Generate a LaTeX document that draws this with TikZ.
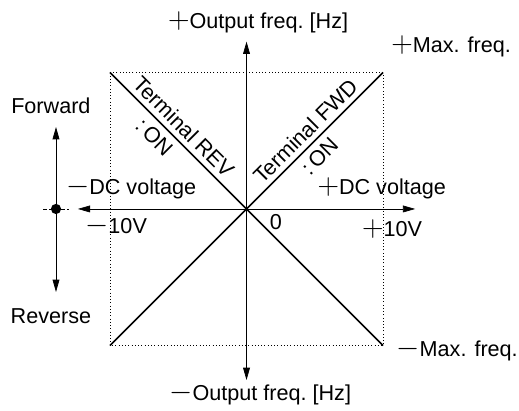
\documentclass[tikz,border=0pt]{standalone}
\usepackage{fontspec}
\setmainfont{Liberation Sans}
\usetikzlibrary{arrows.meta,positioning}
\newcommand{\psgn}{{\fontsize{23}{23}\selectfont$+$}}
\newcommand{\msgn}{{\fontsize{23}{23}\selectfont$-$}}
\tikzset{
  ar/.style={-{Triangle[length=3.6mm,width=2mm]},line width=0.6pt},
  curve/.style={line width=1.4pt},
  frame/.style={dotted,line width=0.7pt},
  lbl/.style={font=\fontsize{18}{21}\selectfont,inner sep=1pt}
}

\begin{document}
\begin{tikzpicture}
\useasboundingbox (-7.22,-5.89) rectangle (7.98,6.12);
\coordinate (o) at (0,0);
\coordinate (tl) at (-4,4);
\coordinate (tr) at (4,4);
\coordinate (bl) at (-4,-4);
\coordinate (br) at (4,-4);
\coordinate (xl) at (-4.94,0);
\coordinate (xr) at (4.94,0);
\coordinate (yt) at (0,4.9);
\coordinate (yb) at (0,-5.01);
% range box
\draw[frame] (tl) rectangle (br);
% axes
\draw[ar] (o) -- (xl);
\draw[ar] (o) -- (xr);
\draw[ar] (o) -- (yt);
\draw[ar] (o) -- (yb);
% characteristics
\draw[curve] (tl) -- (o)
  node[lbl,pos=0.47,sloped,above=3pt] (rev) {Terminal REV}
  node[lbl,pos=0.4,sloped,below=4pt] (revon) {:\,ON} -- (br);
\draw[curve] (bl) -- (o)
  -- (tr)
  node[lbl,pos=0.5,sloped,above=3pt] (fwd) {Terminal FWD}
  node[lbl,pos=0.46,sloped,below=4pt] (fwdon) {:\,ON};
% axis labels
\node[lbl] (outp) at (0.34,5.48) {\psgn Output freq.\ [Hz]};
\node[lbl] (outm) at (0.40,-5.42) {\msgn Output freq.\ [Hz]};
\node[lbl,anchor=west] (maxp) at (4.2,4.75) {\psgn Max. freq.};
\node[lbl,anchor=west] (maxm) at (4.35,-4.13) {\msgn Max. freq.};
\node[lbl] (dcm) at (-3.38,0.6) {\msgn DC voltage};
\node[lbl] (dcp) at (3.96,0.6) {\psgn DC voltage};
\node[lbl] (tenm) at (-3.82,-0.51) {\msgn 10V};
\node[lbl] (zero) at (0.86,-0.38) {0};
\node[lbl] (tenp) at (4.26,-0.59) {\psgn 10V};
% direction
\node[circle,fill,inner sep=0pt,minimum size=0.3cm] (dot) at (-5.58,0) {};
\coordinate (dl) at (-5.95,0);
\coordinate (dr) at (-5.2,0);
\coordinate (up) at (-5.58,2.4);
\coordinate (dn) at (-5.58,-2.43);
\draw[densely dashed,line width=0.6pt] (dl) -- (dr);
\draw[ar] (dot) -- (up);
\draw[ar] (dot) -- (dn);
\node[lbl] (fw) at (-5.73,3.03) {Forward};
\node[lbl] (rv) at (-5.73,-3.15) {Reverse};
\end{tikzpicture}
\end{document}
